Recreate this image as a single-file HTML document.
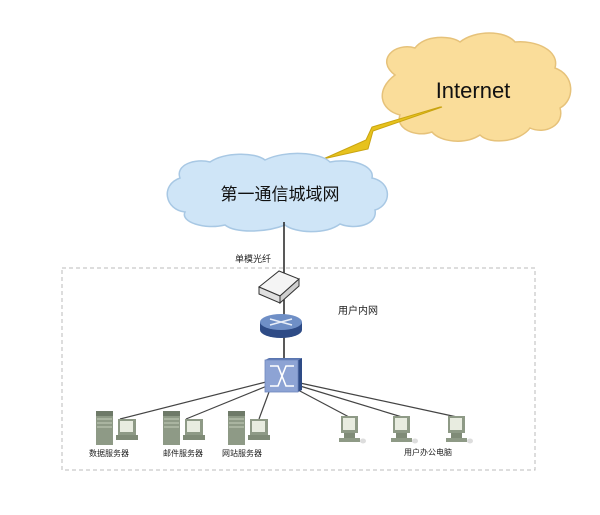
<!DOCTYPE html>
<html><head><meta charset="utf-8"><style>
html,body{margin:0;padding:0;background:#fff;}
svg{display:block;font-family:"Liberation Sans","Noto Sans CJK SC",sans-serif;}
</style></head><body>
<svg width="600" height="515" viewBox="0 0 600 515" xmlns="http://www.w3.org/2000/svg">
<defs>
<g id="srv">
  <rect x="0" y="0" width="17" height="34" fill="#8e9a86"/>
  <rect x="0" y="0" width="17" height="5" fill="#6e7a68"/>
  <rect x="1" y="7" width="15" height="2" fill="#a9b4a0"/>
  <rect x="1" y="11" width="15" height="2" fill="#a9b4a0"/>
  <rect x="1" y="15" width="15" height="2" fill="#a9b4a0"/>
  <rect x="22" y="8" width="18" height="16" fill="#8e9a86"/>
  <rect x="24" y="10" width="13" height="11" fill="#e8ece0"/>
  <rect x="20" y="24" width="22" height="5" fill="#7f8b77"/>
</g>
<g id="pc">
  <rect x="0" y="0" width="17" height="17" fill="#8e9a86"/>
  <rect x="2" y="2" width="12" height="12" fill="#e8ece0"/>
  <rect x="3" y="17" width="11" height="5" fill="#7f8b77"/>
  <rect x="-2" y="22" width="21" height="4" fill="#8e9a86"/>
  <ellipse cx="22" cy="25" rx="3" ry="2.5" fill="#ddd"/>
</g>
</defs>
<!-- internet cloud -->
<path d="M395,75 C375,60 395,42 415,48 C425,35 450,35 460,42 C475,30 505,30 515,42 C535,40 560,50 555,68 C575,75 575,100 560,108 C565,125 545,135 530,128 C520,142 490,145 480,135 C465,145 440,142 432,132 C415,138 395,128 400,115 C380,110 375,90 395,75 Z" fill="#fadd9a" stroke="#e6c27a" stroke-width="1.5"/>
<text x="473" y="98" font-size="22" text-anchor="middle" fill="#111">Internet</text>
<!-- lightning -->
<polygon points="442,107 373,131 368,149 323,159 330,156 366,140 372,127 440,107" fill="#e7c21d" stroke="#c9a410" stroke-width="1"/>
<!-- blue cloud -->
<path d="M180,178 C175,165 195,158 210,162 C225,152 255,152 265,160 C285,150 320,152 330,162 C350,158 375,165 372,178 C392,182 392,205 375,210 C378,225 355,230 340,224 C325,235 295,233 285,225 C265,233 235,233 225,225 C205,230 180,222 185,212 C165,210 160,185 180,178 Z" fill="#cfe5f7" stroke="#a8c8e4" stroke-width="1.5"/>
<text x="280" y="200" font-size="17" text-anchor="middle" fill="#111">第一通信城域网</text>
<!-- vertical line -->
<line x1="284" y1="222" x2="284" y2="362" stroke="#222" stroke-width="1.5"/>
<text x="235" y="262" font-size="9" fill="#222">单模光纤</text>
<!-- dashed box -->
<rect x="62" y="268" width="473" height="202" fill="none" stroke="#bbb" stroke-dasharray="4,3" stroke-width="1"/>
<text x="338" y="314" font-size="10" fill="#222">用户内网</text>
<!-- modem -->
<polygon points="259,287 279,271 299,279 280,296" fill="#f4f4f4" stroke="#333" stroke-width="1"/>
<polygon points="259,287 280,296 280,303 259,294" fill="#e0e0e0" stroke="#333" stroke-width="1"/>
<polygon points="280,296 299,279 299,286 280,303" fill="#cfcfcf" stroke="#333" stroke-width="1"/>
<!-- router -->
<ellipse cx="281" cy="330" rx="21" ry="8" fill="#2e4b86"/>
<rect x="260" y="322" width="42" height="8" fill="#2e4b86"/>
<ellipse cx="281" cy="322" rx="21" ry="8" fill="#6f8fc6"/>
<path d="M270,319 L292,325 M270,325 L292,319" stroke="#e8eef8" stroke-width="1.5"/>
<!-- switch lines -->
<g stroke="#444" stroke-width="1.2">
<line x1="266" y1="382" x2="120" y2="419"/>
<line x1="267" y1="386" x2="186" y2="419"/>
<line x1="269" y1="392" x2="259" y2="419"/>
<line x1="298" y1="390" x2="349" y2="417"/>
<line x1="300" y1="386" x2="402" y2="417"/>
<line x1="300" y1="383" x2="457" y2="417"/>
</g>
<!-- switch -->
<polygon points="298,360 302,358 302,390 298,392" fill="#2e4b86"/>
<polygon points="265,360 269,358 302,358 298,360" fill="#5a76b0"/>
<rect x="265" y="360" width="33" height="32" fill="#8da3d4" stroke="#6f86bd" stroke-width="0.8"/>
<path d="M270,366 L278,366 L286,386 L294,386 M270,386 L278,386 L286,366 L294,366" stroke="#fff" stroke-width="1.6" fill="none"/>
<!-- devices -->
<use href="#srv" x="96" y="411"/>
<use href="#srv" x="163" y="411"/>
<use href="#srv" x="228" y="411"/>
<use href="#pc" x="341" y="416"/>
<use href="#pc" x="393" y="416"/>
<use href="#pc" x="448" y="416"/>
<g font-size="8" fill="#222">
<text x="89" y="456">数据服务器</text>
<text x="163" y="456">邮件服务器</text>
<text x="222" y="456">网站服务器</text>
<text x="404" y="455">用户办公电脑</text>
</g>
</svg>
</body></html>
